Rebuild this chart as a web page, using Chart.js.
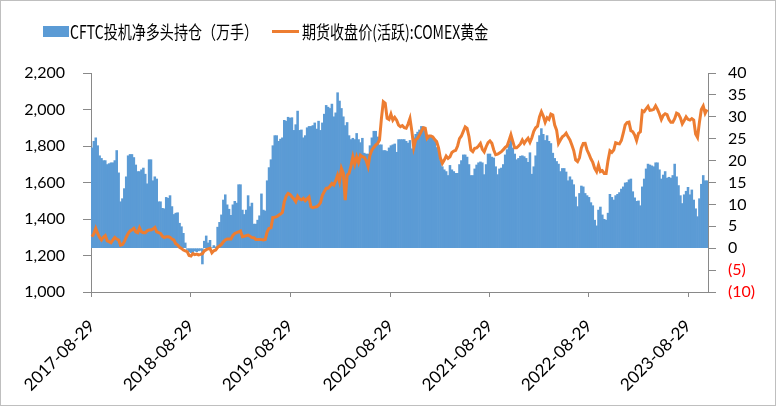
<!DOCTYPE html>
<html lang="zh">
<head>
<meta charset="UTF-8">
<title>CFTC投机净多头持仓与COMEX黄金</title>
<script src="https://cdn.jsdelivr.net/npm/chart.js@4.4.0/dist/chart.umd.min.js"></script>
<style>
    body { margin: 0; background: #fff; }
    #wrap { position: relative; width: 776px; height: 406px; }
    #chart { position: absolute; left: 0; top: 0; }
    .frame { position: absolute; left: 0; top: 0; width: 774px; height: 404px; border: 1px solid #bfbfbf; pointer-events: none; }
    .swatch { position: absolute; }
    .ltext { position: absolute; top: 18px; font: 18px/26px "Noto Sans CJK SC", sans-serif; color: #000;
             white-space: nowrap; transform: scaleX(0.78); transform-origin: left center; }
</style>
</head>
<body>
<div id="wrap">
    <canvas id="chart" width="776" height="406"></canvas>
    <div class="swatch" style="left:43px;top:26px;width:26px;height:11px;background:#5B9BD5"></div>
    <div class="ltext" id="name0" style="left:70px"></div>
    <div class="swatch" style="left:272px;top:30px;width:27px;height:3px;background:#ED7D31"></div>
    <div class="ltext" id="name1" style="left:302px"></div>
    <div class="frame"></div>
</div>
<script>
// weekly, first week 2017-08-29
const firstWeek = '2017-08-29';
const seriesNames = ['CFTC投机净多头持仓（万手）', '期货收盘价(活跃):COMEX黄金'];
const tickDates = ['2017-08-29', '2018-08-29', '2019-08-29', '2020-08-29', '2021-08-29', '2022-08-29', '2023-08-29'];

// net long, 10k contracts (right axis)
const netLong = [
    22.9, 24.4, 25.2, 23.4, 21.1, 20.5, 20.0, 20.0, 19.1, 19.3,
    19.5, 19.5, 20.0, 22.3, 17.2, 10.6, 11.3, 13.6, 16.3, 21.1,
    21.4, 21.4, 20.7, 19.0, 17.5, 17.5, 17.9, 18.3, 16.9, 14.7,
    20.2, 20.2, 15.4, 16.3, 15.8, 10.6, 10.6, 9.1, 9.0, 11.6,
    11.4, 12.0, 9.5, 7.7, 8.0, 8.1, 5.7, 4.9, 3.4, 1.2,
    -0.3, -0.8, -1.0, -1.0, -0.6, -0.8, -0.6, -0.5, -3.6, 1.6,
    2.8, 1.2, 1.8, 0.1, 0.6, 0.3, 4.8, 5.9, 7.6, 11.0,
    12.2, 9.9, 8.9, 7.5, 9.9, 10.7, 10.3, 14.5, 14.5, 8.7,
    7.7, 8.7, 12.0, 9.5, 10.3, 5.5, 5.5, 6.4, 7.4, 12.4,
    8.7, 8.5, 15.4, 18.4, 20.2, 23.4, 25.7, 25.7, 24.4, 24.9,
    25.2, 29.2, 29.0, 29.9, 29.7, 29.8, 26.9, 28.2, 31.3, 26.9,
    27.0, 25.2, 25.7, 27.5, 27.8, 27.8, 28.0, 28.6, 27.2, 29.0,
    26.9, 28.6, 30.6, 32.6, 32.2, 31.9, 32.9, 30.0, 30.9, 35.5,
    33.6, 31.9, 30.0, 28.0, 28.7, 25.7, 24.8, 25.1, 24.8, 26.2,
    24.8, 24.1, 25.1, 21.7, 21.5, 21.5, 23.4, 25.2, 26.7, 26.7,
    25.4, 23.6, 23.6, 22.3, 22.3, 22.1, 22.9, 23.4, 23.6, 23.8,
    21.9, 24.8, 24.8, 24.8, 24.8, 24.4, 24.0, 24.6, 22.7, 25.2,
    26.0, 26.5, 27.0, 27.8, 27.7, 26.7, 24.6, 25.4, 25.7, 25.2,
    24.4, 23.0, 22.3, 20.0, 18.6, 17.9, 17.5, 16.6, 18.9, 17.9,
    17.5, 17.1, 17.1, 19.1, 20.0, 21.3, 21.3, 20.8, 19.1, 16.6,
    16.6, 18.1, 19.0, 19.5, 19.7, 19.5, 16.8, 19.1, 21.5, 21.5,
    20.8, 20.6, 18.6, 16.8, 18.1, 18.3, 19.1, 21.3, 22.5, 23.8,
    24.6, 22.9, 21.5, 20.2, 20.5, 21.0, 21.1, 20.9, 20.5, 19.6,
    21.8, 16.9, 18.6, 21.1, 24.2, 25.7, 27.3, 26.0, 24.6, 25.7,
    24.4, 23.9, 21.7, 20.5, 19.8, 19.2, 17.5, 18.2, 18.2, 17.4,
    15.4, 16.3, 15.6, 14.5, 11.7, 9.5, 12.5, 14.2, 14.0, 12.5,
    12.0, 11.6, 10.4, 9.7, 6.4, 5.1, 8.7, 9.4, 7.6, 6.6,
    6.4, 8.0, 12.3, 11.6, 11.0, 12.0, 12.3, 12.7, 13.5, 14.0,
    14.9, 15.0, 15.6, 15.8, 12.9, 11.5, 10.7, 10.8, 9.7, 14.0,
    15.8, 18.1, 19.2, 19.0, 18.8, 18.6, 19.5, 19.5, 17.9, 15.8,
    16.7, 17.5, 16.0, 16.2, 16.0, 16.6, 19.2, 16.3, 14.3, 12.0,
    10.2, 12.2, 13.0, 13.9, 12.2, 13.3, 11.0, 9.0, 7.2, 11.3,
    14.6, 16.6, 15.4, 15.4
];

// COMEX gold close, USD/oz (left axis)
const goldClose = [
    1303, 1320, 1349, 1321, 1300, 1285, 1300, 1309, 1280, 1276,
    1270, 1285, 1299, 1290, 1285, 1257, 1260, 1276, 1300, 1321,
    1335, 1340, 1349, 1330, 1325, 1352, 1330, 1325, 1325, 1335,
    1340, 1340, 1345, 1354, 1330, 1325, 1321, 1305, 1298, 1303,
    1303, 1300, 1290, 1285, 1265, 1257, 1245, 1239, 1230, 1225,
    1221, 1200, 1197, 1210, 1205, 1208, 1203, 1206, 1210, 1225,
    1232, 1236, 1239, 1215, 1226, 1230, 1245, 1252, 1261, 1275,
    1285, 1290, 1290, 1290, 1310, 1321, 1325, 1330, 1334, 1303,
    1305, 1309, 1312, 1305, 1299, 1298, 1288, 1288, 1288, 1287,
    1285, 1288, 1330, 1349, 1352, 1409, 1410, 1413, 1420, 1427,
    1436, 1495, 1525, 1540, 1535, 1522, 1510, 1495, 1525, 1510,
    1505, 1513, 1500, 1510, 1520, 1467, 1462, 1465, 1467, 1475,
    1490, 1530, 1550, 1568, 1568, 1580, 1595, 1586, 1610, 1641,
    1605, 1677, 1650, 1504, 1640, 1650, 1690, 1741, 1700, 1741,
    1710, 1750, 1741, 1738, 1720, 1687, 1750, 1778, 1792, 1805,
    1814, 1833, 1950, 2043, 2034, 1951, 1945, 1975, 1942, 1957,
    1942, 1915, 1906, 1912, 1900, 1897, 1920, 1951, 1880, 1792,
    1833, 1842, 1860, 1880, 1900, 1897, 1842, 1855, 1855, 1850,
    1835, 1824, 1790, 1732, 1705, 1723, 1745, 1732, 1741, 1765,
    1772, 1776, 1800, 1840, 1855, 1880, 1905, 1897, 1851, 1778,
    1769, 1787, 1790, 1800, 1814, 1782, 1768, 1796, 1818, 1828,
    1815, 1778, 1752, 1755, 1762, 1769, 1780, 1792, 1800, 1830,
    1862, 1825, 1790, 1790, 1800, 1811, 1833, 1814, 1830, 1842,
    1820, 1845, 1880, 1900, 1909, 1960, 1988, 1964, 1930, 1955,
    1946, 1975, 1970, 1915, 1887, 1814, 1833, 1850, 1858, 1870,
    1850, 1833, 1805, 1775, 1723, 1714, 1735, 1790, 1814, 1815,
    1778, 1755, 1730, 1710, 1677, 1659, 1696, 1660, 1665, 1650,
    1650, 1720, 1774, 1765, 1778, 1818, 1814, 1812, 1830, 1870,
    1915, 1928, 1931, 1884, 1878, 1860, 1830, 1869, 1878, 1993,
    1988, 2004, 2017, 1995, 1997, 2001, 2020, 2001, 1975, 1945,
    1968, 1977, 1972, 1945, 1930, 1930, 1950, 1980, 1975, 1955,
    1922, 1940, 1960, 1946, 1942, 1950, 1942, 1866, 1847, 1930,
    2000, 2019, 1979, 2000
];

document.getElementById('name0').textContent = seriesNames[0];
document.getElementById('name1').textContent = seriesNames[1];

const DAY = 86400000;
const t0 = Date.parse(firstWeek + 'T00:00:00Z');
const weeks = netLong.map((v, i) => new Date(t0 + i * 7 * DAY).toISOString().slice(0, 10));

// put each year label on the nearest weekly category
const tickAt = {};
tickDates.forEach(d => {
    const idx = Math.round((Date.parse(d + 'T00:00:00Z') - t0) / (7 * DAY));
    tickAt[idx] = d;
});

const axisGray = '#898989';
Chart.defaults.font.family = 'Lato, "Noto Sans CJK SC", sans-serif';
Chart.defaults.font.size = 16;
Chart.defaults.color = '#000';

new Chart(document.getElementById('chart'), {
    data: {
        labels: weeks,
        datasets: [{
            type: 'line',
            label: seriesNames[1],
            data: goldClose,
            yAxisID: 'y',
            borderColor: '#ED7D31',
            borderWidth: 3,
            pointRadius: 0,
            tension: 0,
            order: 0
        }, {
            type: 'bar',
            label: seriesNames[0],
            data: netLong,
            yAxisID: 'y1',
            backgroundColor: '#5B9BD5',
            barPercentage: 1,
            categoryPercentage: 1,
            order: 1
        }]
    },
    options: {
        responsive: false,
        animation: false,
        events: [],
        layout: { padding: { top: 73, left: 0, right: 0, bottom: 0 } },
        plugins: { legend: { display: false }, tooltip: { enabled: false } },
        scales: {
            x: {
                type: 'category',
                offset: true,
                grid: { drawOnChartArea: false, tickLength: 5, color: axisGray, offset: false },
                border: { color: axisGray },
                ticks: {
                    autoSkip: false,
                    minRotation: 45,
                    maxRotation: 45,
                    padding: 19,
                    font: { size: 17 },
                    callback: (v, i) => (tickAt[i] !== undefined ? tickAt[i] : null)
                },
                afterFit: s => { s.height = 114; }
            },
            y: {
                position: 'left',
                min: 1000,
                max: 2200,
                ticks: { stepSize: 200, autoSkip: false, padding: 18, callback: v => v.toLocaleString('en-US') },
                grid: { drawOnChartArea: false, tickLength: 8, color: axisGray },
                border: { color: axisGray },
                afterFit: s => { s.width = 91; }
            },
            y1: {
                position: 'right',
                min: -10,
                max: 40,
                ticks: {
                    stepSize: 5,
                    autoSkip: false,
                    padding: 12,
                    color: c => (c.tick && c.tick.value < 0 ? '#FF0000' : '#000'),
                    callback: v => (v < 0 ? '(' + Math.abs(v) + ')' : String(v))
                },
                grid: { drawOnChartArea: false, tickLength: 8, color: axisGray },
                border: { color: axisGray },
                afterFit: s => { s.width = 68; }
            }
        }
    }
});
</script>
</body>
</html>
